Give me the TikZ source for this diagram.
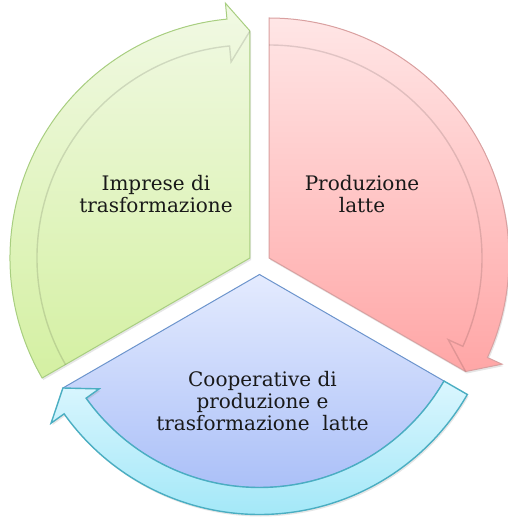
\documentclass[tikz,border=0pt]{standalone}
\usepackage{fontspec}
\setmainfont{DejaVu Serif}
\usetikzlibrary{shadows}
\definecolor{greentop}{HTML}{F1F9E4}
\definecolor{greenbot}{HTML}{D4F0A2}
\definecolor{greenline}{HTML}{A8CE80}
\definecolor{redtop}{HTML}{FFE6E6}
\definecolor{redbot}{HTML}{FFA6A6}
\definecolor{redline}{HTML}{D9A0A0}
\definecolor{bluetop}{HTML}{E4EBFE}
\definecolor{bluebot}{HTML}{ABC0F8}
\definecolor{blueline}{HTML}{6C94CC}
\definecolor{cyantop}{HTML}{DAF6FE}
\definecolor{cyanbot}{HTML}{A4E8F8}
\definecolor{cyanline}{HTML}{4AAEC2}

\begin{document}
\begin{tikzpicture}[x=0.5pt,y=0.5pt]
  \tikzstyle{lables}=[font=\fontsize{10}{11}\selectfont,align=center,text=black!90]
  \tikzstyle{rim}=[draw=black,draw opacity=0.12,line width=0.7pt]
  \tikzstyle{segment}=[line width=0.5pt,drop shadow={opacity=0.2,shadow xshift=0.6pt,shadow yshift=-1pt}]
  \useasboundingbox (-259.5,-255.5) rectangle (248.5,263.5);
  % green segment, arrow ends at the top
  \begin{scope}[shift={(150:11)}]
    \draw[segment,draw=greenline,top color=greentop,bottom color=greenbot]
      (0,0) -- (210:240) arc[start angle=210,end angle=95.5,radius=240]
      -- (95.5:256) -- (90:227) -- cycle;
    \draw[rim] (90:227) -- (95.5:197) -- (95.5:213)
      arc[start angle=95.5,end angle=210,radius=213];
  \end{scope}
  % red segment, arrow ends lower right
  \begin{scope}[shift={(30:11)}]
    \draw[segment,draw=redline,top color=redtop,bottom color=redbot]
      (0,0) -- (90:240) arc[start angle=90,end angle=-24.5,radius=240]
      -- (-24.5:256) -- (-30:227) -- cycle;
    \draw[rim] (-30:227) -- (-24.5:197) -- (-24.5:213)
      arc[start angle=-24.5,end angle=90,radius=213];
  \end{scope}
  % blue segment with its own arrow band
  \begin{scope}[shift={(270:11)}]
    \draw[segment,draw=blueline,top color=bluetop,bottom color=bluebot]
      (0,0) -- (-30:213) arc[start angle=-30,end angle=-144.5,radius=213]
      -- (-150:227) -- cycle;
    \draw[segment,draw=cyanline,line width=0.7pt,top color=cyantop,bottom color=cyanbot]
      (-30:213) -- (-30:240) arc[start angle=-30,end angle=-144.5,radius=240]
      -- (-144.5:256) -- (-150:227) -- (-144.5:197) -- (-144.5:213)
      arc[start angle=-144.5,end angle=-30,radius=213] -- cycle;
  \end{scope}
  \node[lables] (imprese) at (-103.5,69.5) {Imprese di\\trasformazione};
  \node[lables] (produzione) at (102.5,69.5) {Produzione\\latte};
  \node[lables] (cooperative) at (3,-137.5) {Cooperative di\\produzione e\\trasformazione\ \ latte};
\end{tikzpicture}
\end{document}
